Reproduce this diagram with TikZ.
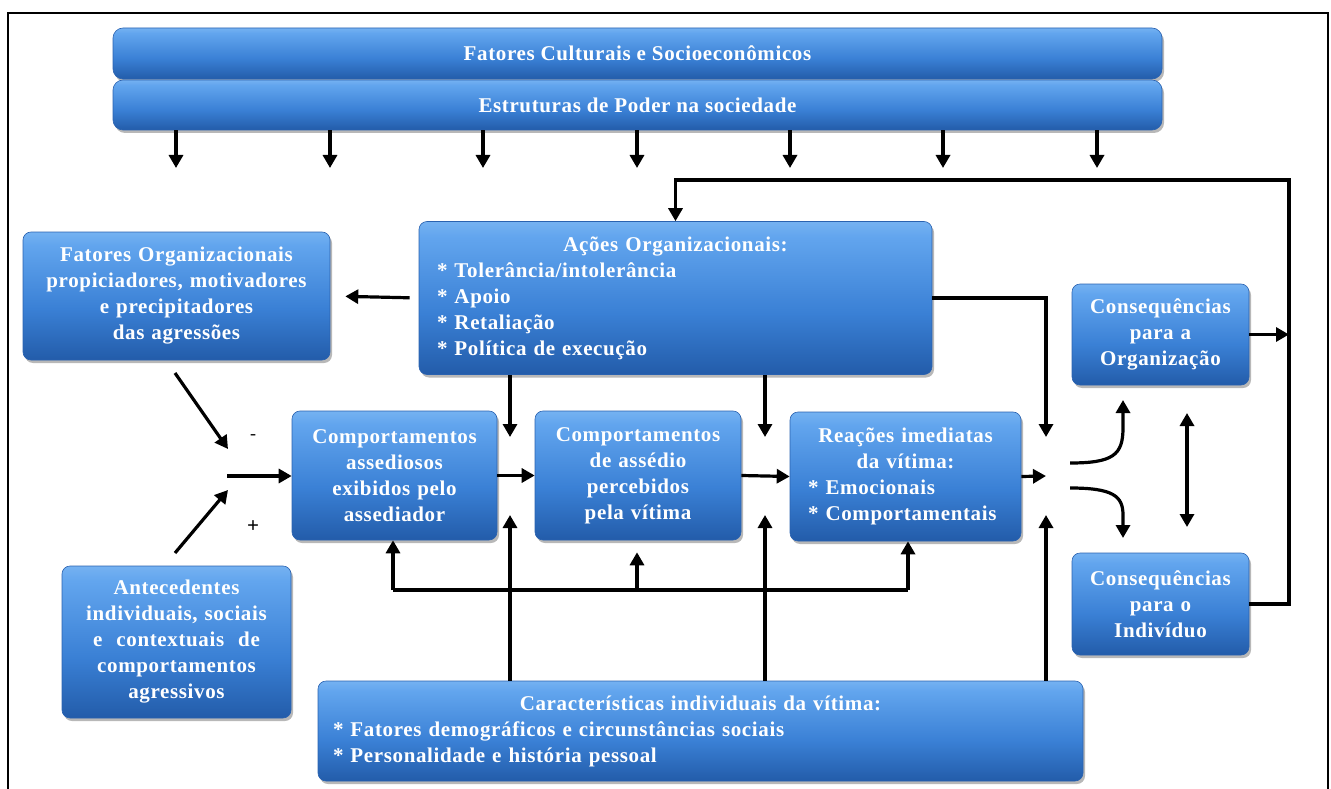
\documentclass[tikz,border=0pt]{standalone}
\usepackage{fontspec}
\setmainfont{Liberation Serif}
\newfontfamily\boxfont{Liberation Serif}[LetterSpace=3]
\usetikzlibrary{arrows.meta,shadows}
\definecolor{g0}{HTML}{093370}
\definecolor{g1}{HTML}{174A94}
\definecolor{g2}{HTML}{3A80D5}
\definecolor{g3}{HTML}{62A5EE}
\definecolor{g4}{HTML}{A6D2FA}
\definecolor{g5}{HTML}{B8DCFB}
\definecolor{g6}{HTML}{8EC3F4}
\definecolor{bord}{HTML}{2A62B0}
\pgfdeclareverticalshading{gloss}{100bp}{color(0bp)=(g0); color(15bp)=(g1); color(45bp)=(g2); color(70bp)=(g3); color(88bp)=(g4); color(95bp)=(g5); color(100bp)=(g6)}
\tikzset{
  box/.style={rounded corners=8pt, shading=gloss, draw=bord, line width=0.6pt,
    drop shadow={shadow xshift=2pt, shadow yshift=-3pt, opacity=0.28, fill=black},
    text=white, font=\boxfont\bfseries\fontsize{21}{26}\selectfont,
    inner sep=0pt, align=center},
  wh/.style 2 args={minimum width=#1pt, minimum height=#2pt},
  arr/.style={line width=3.2pt, -{Triangle[length=13pt,width=14pt]}},
  arrb/.style={line width=3.2pt, {Triangle[length=13pt,width=14pt]}-{Triangle[length=13pt,width=14pt]}},
  ln/.style={line width=3.2pt},
  sign/.style={text=black}
}
\begin{document}
\begin{tikzpicture}[x=1pt,y=-1pt]
\useasboundingbox (0,0) rectangle (1331,789);
\draw[line width=2.6pt] (8,800) -- (8,13) -- (1328,13) -- (1328,800);

% top bars
\node[box, wh={1049}{51}, rounded corners=10pt] (cult) at (637.5,53.5) {Fatores Culturais e Socioeconômicos};
\node[box, wh={1049}{50}, rounded corners=10pt] (estr) at (637.5,105) {Estruturas de Poder na sociedade};

% boxes
\node[box, wh={307}{128}, text width=305pt] (fatores) at (176.5,296) {Fatores Organizacionais\\propiciadores, motivadores\\e precipitadores\\das agressões};
\node[box, wh={513}{153}, text width=477pt, align=left] (acoes) at (675.5,298) {\noindent\makebox[\hsize]{Ações Organizacionais:}\\{*} Tolerância/intolerância\\{*} Apoio\\{*} Retaliação\\{*} Política de execução};
\node[box, wh={205}{129}, text width=203pt] (assed) at (394.5,475.5) {Comportamentos\\assediosos\\exibidos pelo\\assediador};
\node[box, wh={206}{129}, text width=204pt] (perc) at (638,475.5) {Comportamentos\\de assédio\\percebidos\\pela vítima};
\node[box, wh={231}{129}, text width=195pt, align=left] (reac) at (905.5,476.5) {\noindent\makebox[\hsize]{Reações imediatas}\\\makebox[\hsize]{da vítima:}\\{*} Emocionais\\{*} Comportamentais};
\node[box, wh={177}{101}, text width=175pt] (consorg) at (1160.5,334.5) {Consequências\\para a\\Organização};
\node[box, wh={177}{102}, text width=175pt] (consind) at (1160.5,604) {Consequências\\para o\\Indivíduo};
\node[box, wh={229}{152}, text width=227pt] (antec) at (176.5,642) {Antecedentes\\individuais, sociais\\e~ contextuais~ de\\comportamentos\\agressivos};
\node[box, wh={765}{100}, text width=735pt, align=left] (carac) at (700.5,731) {\noindent\makebox[\hsize]{Características individuais da vítima:}\\{*} Fatores demográficos e circunstâncias sociais\\{*} Personalidade e história pessoal};

% signs
\node[sign, font=\fontsize{18}{20}\selectfont] (minus) at (253,437) {-};
\node[sign, font=\bfseries\fontsize{21}{22}\selectfont] (plus) at (253,527) {+};

% top arrows
\foreach \i/\x in {1/176,2/330,3/483,4/637,5/790,6/943,7/1097}{
  \coordinate (t\i) at (\x,168);
  \draw[arr] (estr.south -| t\i) -- (t\i);
}

% feedback loop
\coordinate (fbR) at (1289,180);
\draw[arr] (consind.east) -| (fbR) -| (acoes.north);
\draw[arr] (consorg.east) -- (consorg.east -| fbR);

% acoes to fatores
\draw[arr, shorten <=9pt, shorten >=15pt] (acoes.west) -- (fatores.east);

% acoes right
\coordinate (j1) at (1046,437);
\draw[arr] (acoes.east) -| (j1);

% acoes down
\coordinate (d1) at (510,437);
\coordinate (d2) at (765,437);
\draw[arr] (acoes.south -| d1) -- (d1);
\draw[arr] (acoes.south -| d2) -- (d2);

% carac up
\coordinate (u1) at (510,515);
\coordinate (u2) at (765,515);
\coordinate (u3) at (1046,515);
\draw[arr] (carac.north -| u1) -- (u1);
\draw[arr] (carac.north -| u2) -- (u2);
\draw[arr] (carac.north -| u3) -- (u3);

% bottom feedback
\coordinate (bl) at (393,590);
\coordinate (bm) at (637,590);
\coordinate (br) at (908,590);
\draw[ln] (bl) -- (br);
\draw[arr] (bl) -- (assed.south -| bl);
\draw[arr, shorten >=12pt] (bm) -- (perc.south -| bm);
\draw[arr] (br) -- (reac.south -| br);

% left inputs
\coordinate (l1) at (175,373);
\coordinate (l2) at (228,449);
\coordinate (l3) at (175,553);
\coordinate (l4) at (228,490);
\coordinate (l5) at (227,476);
\draw[arr] (l1) -- (l2);
\draw[arr] (l3) -- (l4);
\draw[arr] (l5) -- (assed.west |- l5);

% main chain
\draw[arr] (assed.east) -- (perc.west);
\draw[arr] (perc.east) -- (reac.west);
\coordinate (rr) at (1046,476);
\draw[arr] (reac.east) -- (rr);

% curved arrows
\coordinate (c1s) at (1070,463);
\coordinate (c1e) at (1123,400);
\coordinate (c2s) at (1070,488);
\coordinate (c2e) at (1123,538);
\draw[arr] (c1s) .. controls (1113,463) and (1123,455) .. (1123,428) -- (c1e);
\draw[arr] (c2s) .. controls (1113,488) and (1123,496) .. (1123,515) -- (c2e);

% double arrow
\coordinate (v1) at (1187,413);
\coordinate (v2) at (1187,527);
\draw[arrb] (v1) -- (v2);
\end{tikzpicture}
\end{document}
